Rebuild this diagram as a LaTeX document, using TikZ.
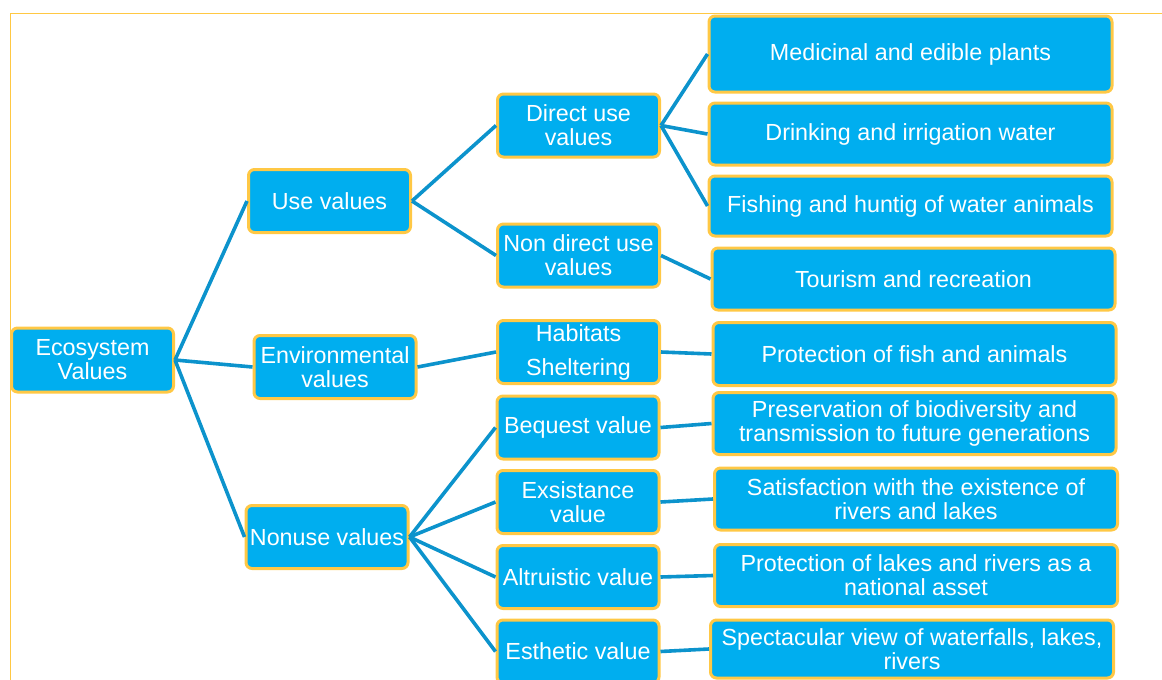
\documentclass[tikz,border=0pt]{standalone}
\usepackage{fontspec}
\setmainfont{Liberation Sans}
\definecolor{boxfill}{HTML}{00AEEF}
\definecolor{boxedge}{HTML}{FFC845}
\definecolor{linkcol}{HTML}{0C93CC}
\definecolor{framecol}{HTML}{FFC843}
\begin{document}
\begin{tikzpicture}[x=1pt,y=-1pt,
  vbox/.style={draw=boxedge, line width=3pt, fill=boxfill, rounded corners=6pt,
    text=white, align=center, inner sep=1pt,
    font=\fontsize{23.3}{24}\selectfont},
  midbox/.style={vbox, minimum width=162pt, minimum height=63pt},
  rightbox/.style={vbox, minimum width=403pt, minimum height=62pt},
  link/.style={draw=linkcol, line width=3.6pt}]
\useasboundingbox (0,0) rectangle (1162,680);
\draw[framecol, line width=1.8pt] (10.5,680) -- (10.5,13.5) -- (1162,13.5);

% column 1
\node[vbox, minimum width=162pt, minimum height=64pt] (eco) at (92.5,360) {Ecosystem\\Values};
% column 2
\node[midbox] (use) at (329.5,201) {Use values};
\node[midbox] (env) at (335,367) {Environmental\\values};
\node[midbox] (non) at (327,537) {Nonuse values};
% column 3
\node[midbox] (dir) at (578.5,125.5) {Direct use\\values};
\node[midbox] (ndir) at (578.5,255.5) {Non direct use\\values};
\node[midbox, font=\fontsize{23.3}{34}\selectfont] (hab) at (578.5,352) {Habitats\\Sheltering};
\node[midbox] (beq) at (578,427.5) {Bequest value};
\node[midbox] (exs) at (578,502) {Exsistance\\value};
\node[midbox] (alt) at (578,577) {Altruistic value};
\node[midbox] (est) at (578,651.5) {Esthetic value};
% column 4
\node[rightbox, minimum height=76pt] (med) at (910.5,54) {Medicinal and edible plants};
\node[rightbox] (dri) at (910.5,134) {Drinking and irrigation water};
\node[rightbox, minimum height=60pt] (fis) at (910.5,206) {Fishing and huntig of water animals};
\node[rightbox] (tou) at (913.5,279) {Tourism and recreation};
\node[rightbox, minimum height=63pt] (pfi) at (914.5,354) {Protection of fish and animals};
\node[rightbox] (pre) at (914.5,423.5) {Preservation of biodiversity and\\transmission to future generations};
\node[rightbox] (sat) at (916,499) {Satisfaction with the existence of\\rivers and lakes};
\node[rightbox] (pla) at (916,575.5) {Protection of lakes and rivers as a\\national asset};
\node[rightbox, minimum height=58pt] (spe) at (912,649) {Spectacular view of waterfalls, lakes,\\rivers};

% connectors
\path[link] (eco.east) -- (use.west);
\path[link] (eco.east) -- (env.west);
\path[link] (eco.east) -- (non.west);
\path[link] (use.east) -- (dir.west);
\path[link] (use.east) -- (ndir.west);
\path[link] (env.east) -- (hab.west);
\path[link] (non.east) -- (beq.west);
\path[link] (non.east) -- (exs.west);
\path[link] (non.east) -- (alt.west);
\path[link] (non.east) -- (est.west);
\path[link] (dir.east) -- (med.west);
\path[link] (dir.east) -- (dri.west);
\path[link] (dir.east) -- (fis.west);
\path[link] (ndir.east) -- (tou.west);
\path[link] (hab.east) -- (pfi.west);
\path[link] (beq.east) -- (pre.west);
\path[link] (exs.east) -- (sat.west);
\path[link] (alt.east) -- (pla.west);
\path[link] (est.east) -- (spe.west);
\end{tikzpicture}
\end{document}
